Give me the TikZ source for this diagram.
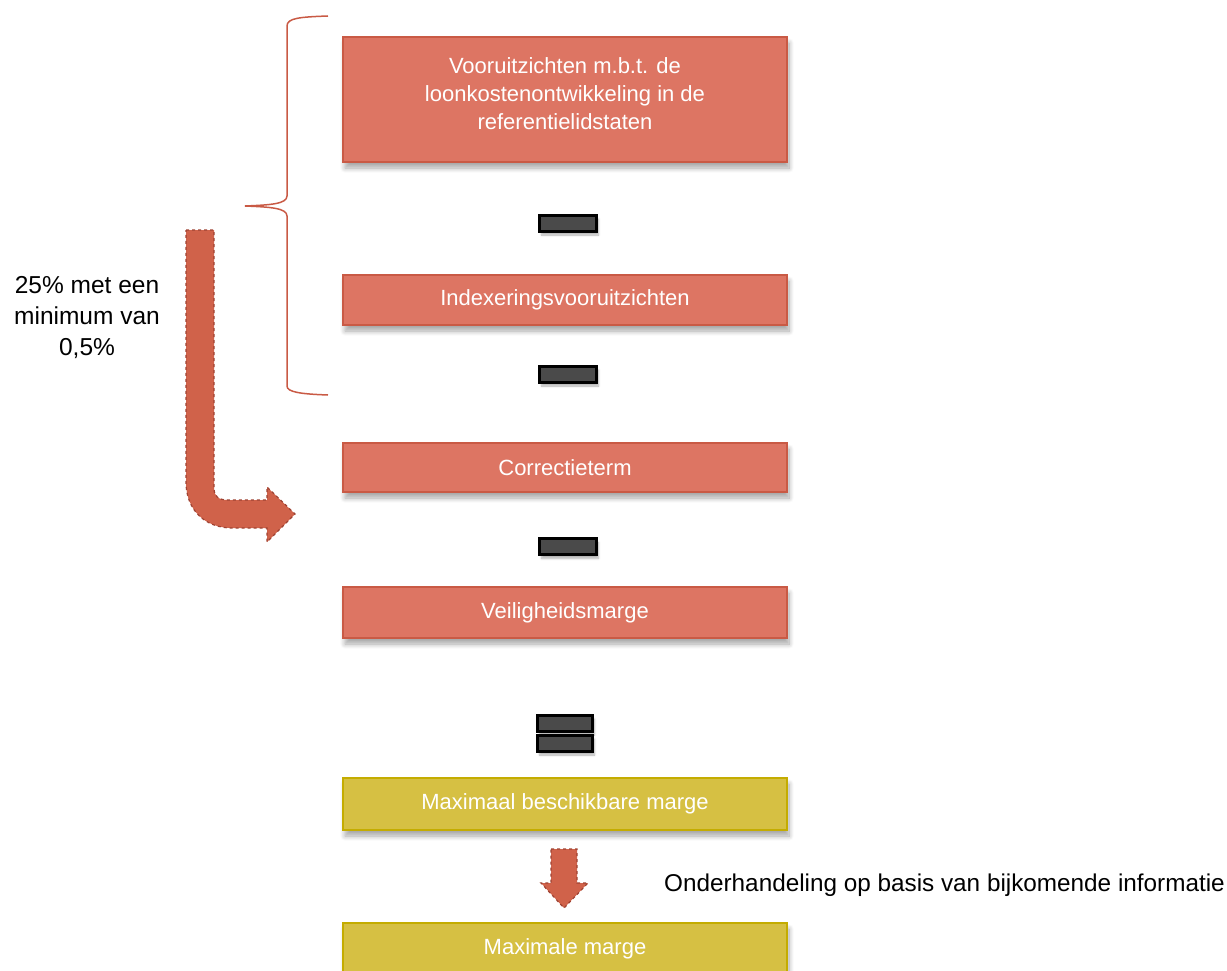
\documentclass[tikz,border=0pt]{standalone}
\usepackage{fontspec}
\setmainfont{Liberation Sans}
\usetikzlibrary{shadows.blur}
\definecolor{salmon}{HTML}{DD7563}
\definecolor{salmonline}{HTML}{C95A45}
\definecolor{gold}{HTML}{D6C043}
\definecolor{goldline}{HTML}{C4AC00}
\definecolor{arrowfill}{HTML}{D0624A}
\definecolor{arrowline}{HTML}{9E4232}
\definecolor{opgray}{HTML}{4A4A4A}
\tikzset{
  x=1pt, y=-1pt,
  boxbase/.style={rectangle, minimum width=444pt, text=white, align=center,
    font=\fontsize{22}{28}\selectfont, line width=1.5pt,
    blur shadow={shadow xshift=2pt, shadow yshift=-6pt, shadow blur steps=8, shadow blur radius=5pt, shadow opacity=35}},
  redbox/.style={boxbase, fill=salmon, draw=salmonline},
  yelbox/.style={boxbase, fill=gold, draw=goldline},
  boxtext/.style={text=white, align=center, font=\fontsize{22}{28}\selectfont},
  opbar/.style={rectangle, minimum width=57pt, minimum height=16pt, inner sep=0pt,
    fill=opgray, draw=black, line width=3pt,
    blur shadow={shadow xshift=2pt, shadow yshift=-4pt, shadow blur steps=5, shadow opacity=30}},
  bigarrow/.style={fill=arrowfill, draw=arrowline, dashed, line width=1.2pt},
  bracestyle/.style={draw=salmonline, line width=1.5pt},
  plaintext/.style={text=black, align=center}
}
\begin{document}
\begin{tikzpicture}
\path[use as bounding box] (0,0) rectangle (1227,971);

% boxes
\node[redbox, minimum height=125pt] (b1) at (565,99.5) {};
\node[boxtext] (b1t) at (565,94)
  {Vooruitzichten m.b.t. de\\loonkostenontwikkeling in de\\referentielidstaten};
\node[redbox, minimum height=50pt] (b2) at (565,300) {Indexeringsvooruitzichten};
\node[redbox, minimum height=49pt] (b3) at (565,467.5) {Correctieterm};
\node[redbox, minimum height=51pt] (b4) at (565,612.5) {Veiligheidsmarge};
\node[yelbox, minimum height=52pt] (b5) at (565,804) {Maximaal beschikbare marge};
\node[yelbox, minimum height=52pt] (b6) at (565,949) {Maximale marge};

% operators
\node[opbar] (m1) at (568,223) {};
\node[opbar] (m2) at (568,374) {};
\node[opbar] (m3) at (568,546.5) {};
\node[opbar, minimum width=55pt] (e1) at (565,723) {};
\node[opbar, minimum width=55pt] (e2) at (565,743) {};

% brace
\coordinate (brtop) at (328,16);
\coordinate (brtip) at (245,206);
\coordinate (brbot) at (328,395);
\draw[bracestyle] (brtop) .. controls (300,17) and (287,18) .. (287,26)
  -- (287,196) .. controls (287,204) and (270,205) .. (brtip)
  .. controls (270,207) and (287,208) .. (287,216)
  -- (287,386) .. controls (287,392) and (300,394) .. (brbot);

% bent arrow
\coordinate (ba) at (186,230);
\path[bigarrow] (ba) -- (214,230) -- (214,488)
  .. controls (214,496) and (218,500) .. (228,500)
  -- (267,500) -- (267,487) -- (295,514) -- (267,542) -- (267,528)
  -- (232,528) .. controls (205,528) and (186,510) .. (186,482) -- cycle;

% small down arrow
\coordinate (da) at (551,849);
\path[bigarrow] (da) -- (577,849) -- (577,883) -- (588,883) -- (564,908)
  -- (541,883) -- (551,883) -- cycle;

% texts
\node[plaintext, font=\fontsize{24.5}{31}\selectfont] (t1) at (87,318) {25\% met een\\minimum van\\0,5\%};
\node[plaintext, anchor=base west, inner sep=0pt, font=\fontsize{24.3}{30}\selectfont] (t2) at (664,891) {Onderhandeling op basis van bijkomende informatie};
\end{tikzpicture}
\end{document}
